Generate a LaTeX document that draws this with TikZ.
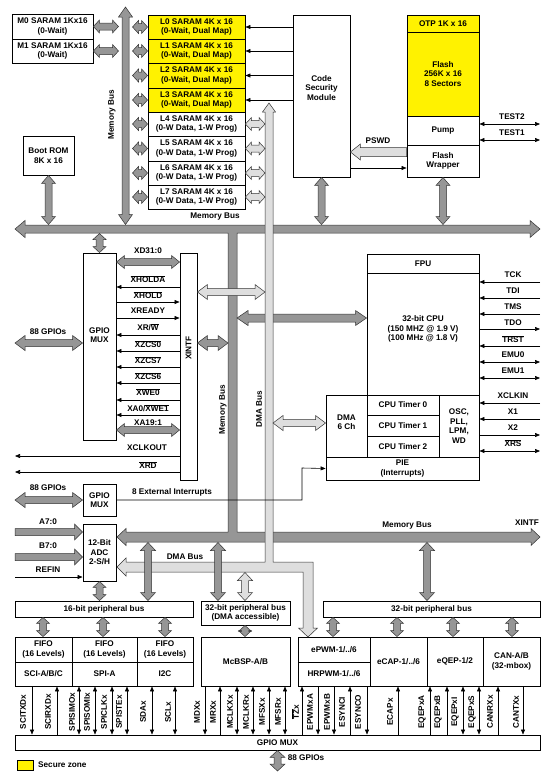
\documentclass[tikz,border=0pt]{standalone}
\usepackage{fontspec}
\setmainfont{Liberation Sans}
\usetikzlibrary{arrows.meta,calc}
\definecolor{busdark}{RGB}{150,150,150}
\definecolor{buslight}{RGB}{222,222,222}
\definecolor{secyel}{RGB}{255,242,0}
\newcommand\ovl[1]{$\overline{\hbox{#1}}$}
\newcommand\fsw{3.5pt}\newcommand\fhw{7pt}\newcommand\fhl{8pt}
\newcommand\fatsize[3]{\renewcommand\fsw{#1pt}\renewcommand\fhw{#2pt}\renewcommand\fhl{#3pt}}
\newcommand\fatDH[3][fatd]{\path[#1] let \p1=#2, \p2=#3 in (\x1,\y1) -- (\x1+\fhl,\y1+\fhw) -- (\x1+\fhl,\y1+\fsw) -- (\x2-\fhl,\y1+\fsw) -- (\x2-\fhl,\y1+\fhw) -- (\x2,\y1) -- (\x2-\fhl,\y1-\fhw) -- (\x2-\fhl,\y1-\fsw) -- (\x1+\fhl,\y1-\fsw) -- (\x1+\fhl,\y1-\fhw) -- cycle;}
\newcommand\fatDV[3][fatd]{\path[#1] let \p1=#2, \p2=#3 in (\x1,\y1) -- (\x1+\fhw,\y1-\fhl) -- (\x1+\fsw,\y1-\fhl) -- (\x1+\fsw,\y2+\fhl) -- (\x1+\fhw,\y2+\fhl) -- (\x1,\y2) -- (\x1-\fhw,\y2+\fhl) -- (\x1-\fsw,\y2+\fhl) -- (\x1-\fsw,\y1-\fhl) -- (\x1-\fhw,\y1-\fhl) -- cycle;}
\newcommand\fatSR[3][fatd]{\path[#1] let \p1=#2, \p2=#3 in (\x1,\y1+\fsw) -- (\x2-\fhl,\y1+\fsw) -- (\x2-\fhl,\y1+\fhw) -- (\x2,\y1) -- (\x2-\fhl,\y1-\fhw) -- (\x2-\fhl,\y1-\fsw) -- (\x1,\y1-\fsw) -- cycle;}
\newcommand\fatSL[3][fatd]{\path[#1] let \p1=#2, \p2=#3 in (\x1,\y1) -- (\x1+\fhl,\y1+\fhw) -- (\x1+\fhl,\y1+\fsw) -- (\x2,\y1+\fsw) -- (\x2,\y1-\fsw) -- (\x1+\fhl,\y1-\fsw) -- (\x1+\fhl,\y1-\fhw) -- cycle;}
\newcommand\bx[7][]{\node[box,#1,minimum width={#4pt-#2pt},minimum height={#5pt-#3pt}] (#6) at ({(#2+#4)/2},{(#3+#5)/2}) {#7};}
\begin{document}
\begin{tikzpicture}[x=1pt,y=-1pt,
 every node/.style={font=\fontsize{8.2}{9.5}\selectfont\bfseries,inner sep=0pt},
 box/.style={draw,line width=0.9pt,align=center,fill=white},
 sec/.style={fill=secyel},
 fatd/.style={draw=black!80,line width=0.5pt,fill=busdark},
 fatl/.style={draw=black!80,line width=0.5pt,fill=buslight},
 sig/.style={line width=0.6pt,-{Triangle[length=5pt,width=4pt]}},
 sigr/.style={line width=0.6pt,{Triangle[length=5pt,width=4pt]}-},
 sigb/.style={line width=0.6pt,{Triangle[length=5pt,width=4pt]}-{Triangle[length=5pt,width=4pt]}},
 lab/.style={align=center}]
\useasboundingbox (0,0) rectangle (548,772);
\fill[white] (0,0) rectangle (548,772);
% named free ends
\coordinate (Lft) at (15,0);
\coordinate (R) at (540,0);
\coordinate (mbvTop) at (125.5,7);
\coordinate (mbvL) at (118.5,0);
\coordinate (mbvR) at (132.5,0);
\coordinate (mbtT) at (0,224.5);
\coordinate (mbtB) at (0,233.5);
\coordinate (mbmL) at (228,0);
\coordinate (mbmR) at (237,0);
\coordinate (dmaL) at (265,0);
\coordinate (dmaR) at (273,0);
\coordinate (mblB) at (0,542.5);
\coordinate (dmahB) at (0,572.5);
\coordinate (intc) at (302,468);
\coordinate (gbot) at (0,771);

% ---------- boxes ----------
\bx{12}{14}{93}{39}{m0}{M0 SARAM 1Kx16\\(0-Wait)}
\bx{12}{39}{93}{63}{m1}{M1 SARAM 1Kx16\\(0-Wait)}
\bx[sec]{148}{15}{245}{39}{l0}{L0 SARAM 4K x 16\\(0-Wait, Dual Map)}
\bx[sec]{148}{39}{245}{63}{l1}{L1 SARAM 4K x 16\\(0-Wait, Dual Map)}
\bx[sec]{148}{63}{245}{88}{l2}{L2 SARAM 4K x 16\\(0-Wait, Dual Map)}
\bx[sec]{148}{88}{245}{112}{l3}{L3 SARAM 4K x 16\\(0-Wait, Dual Map)}
\bx{148}{112}{245}{136}{l4}{L4 SARAM 4K x 16\\(0-W Data, 1-W Prog)}
\bx{148}{136}{245}{161}{l5}{L5 SARAM 4K x 16\\(0-W Data, 1-W Prog)}
\bx{148}{161}{245}{185}{l6}{L6 SARAM 4K x 16\\(0-W Data, 1-W Prog)}
\bx{148}{185}{245}{209}{l7}{L7 SARAM 4K x 16\\(0-W Data, 1-W Prog)}
\bx{23}{136}{74}{175}{bootrom}{Boot ROM\\8K x 16}
\bx{293}{15}{350}{177}{csm}{}
\node[lab] at (321.5,88) {Code\\Security\\Module};
\bx[sec]{407}{15}{479}{32}{otp}{OTP 1K x 16}
\bx[sec]{407}{32}{479}{116}{flash}{Flash\\256K x 16\\8 Sectors}
\bx{407}{116}{479}{145}{pump}{Pump}
\bx{407}{145}{479}{177}{wrapper}{Flash\\Wrapper}

\bx{83}{253}{116}{440}{gpiomux}{}
\node[lab] at (99.5,335) {GPIO\\MUX};
\bx{180}{253}{197}{480}{xintf}{}
\node[rotate=90] at (188.5,348) {XINTF};
\bx{367}{254}{479}{273}{fpu}{FPU}
\bx{367}{273}{479}{395}{cpu}{}
\node[lab] at (423,329) {32-bit CPU\\(150 MHZ @ 1.9 V)\\(100 MHz @ 1.8 V)};
\bx{326}{395}{367}{457}{dmabox}{}
\node[lab] at (346.5,422) {DMA\\6 Ch};
\bx{367}{395}{439}{415}{t0}{CPU Timer 0}
\bx{367}{415}{439}{436}{t1}{CPU Timer 1}
\bx{367}{436}{439}{457}{t2}{CPU Timer 2}
\bx{439}{395}{479}{457}{osc}{OSC,\\PLL,\\LPM,\\WD}
\bx{326}{457}{479}{480}{pie}{PIE\\(Interrupts)}

\bx{83}{484}{116}{516}{gpiomuxb}{GPIO\\MUX}
\bx{83}{524}{116}{581}{adc}{12-Bit\\ADC\\2-S/H}
\bx{15}{601}{193}{617}{bus16}{16-bit peripheral bus}
\bx{201}{601}{290}{625}{bus32d}{32-bit peripheral bus\\(DMA accessible)}
\bx{323}{601}{540}{617}{bus32}{32-bit peripheral bus}

\bx{15}{637}{72}{662}{scif}{FIFO\\(16 Levels)}
\bx{15}{662}{72}{686}{sci}{SCI-A/B/C}
\bx{72}{637}{137}{662}{spif}{FIFO\\(16 Levels)}
\bx{72}{662}{137}{686}{spi}{SPI-A}
\bx{137}{637}{193}{662}{i2cf}{FIFO\\(16 Levels)}
\bx{137}{662}{193}{686}{i2c}{I2C}
\bx{201}{637}{290}{686}{mcbsp}{McBSP-A/B}
\bx{298}{637}{370}{662}{epwm}{ePWM-1/../6}
\bx{298}{662}{370}{686}{hrpwm}{HRPWM-1/../6}
\bx{370}{637}{427}{686}{ecap}{eCAP-1/../6}
\bx{427}{637}{483}{686}{eqep}{eQEP-1/2}
\bx{483}{637}{540}{686}{can}{CAN-A/B\\(32-mbox)}
\bx{15}{735}{540}{750}{gpiob}{GPIO MUX}
\bx[sec,line width=0.6pt]{17}{760}{33}{770}{legend}{}
\node[anchor=west] at (38,765) {Secure zone};

% ---------- memory bus (composite) ----------
\path[fatd] (15,229) -- (25,220.5) -- (25,225) -- (530,225) -- (530,220.5) -- (540,229) -- (530,237.5) -- (530,233) -- (237,233) -- (237,532) -- (531,532) -- (531,528.5) -- (540,537) -- (531,545.5) -- (531,542) -- (126,542) -- (126,545.5) -- (117,537) -- (126,528.5) -- (126,532) -- (228,532) -- (228,233) -- (25,233) -- (25,237.5) -- cycle;
\node at (215,217) {Memory Bus};
\node at (407,526) {Memory Bus};
\node at (527,523) {XINTF};
\node[rotate=90] at (223,410) {Memory Bus};

% top-left vertical memory bus
\fatsize{3.5}{7}{10}
\fatDV{(mbvTop)}{(mbvL |- mbtT)}
\node[rotate=90] at (112,115) {Memory Bus};

\fatsize{3.5}{6.5}{6}
\fatDH{(m0.east)}{(mbvL)}
\fatDH{(m1.east)}{(mbvL)}
\foreach \nm in {l0,l1,l2,l3,l4,l5,l6,l7}{\fatDH{(mbvR |- \nm.west)}{(\nm.west)}}

\foreach \nm in {l0,l1,l2,l3}{\draw[sig] (csm.west |- \nm.east) -- (\nm.east);}

\fatsize{3.5}{7}{8}
\fatDV{(bootrom.south)}{(bootrom.south |- mbtT)}
\fatDV{(csm.south)}{(csm.south |- mbtT)}
\fatDV{(wrapper.south)}{(wrapper.south |- mbtT)}
\fatsize{3.5}{6.5}{6}
\fatDV{(gpiomux.north |- mbtB)}{(gpiomux.north)}

% flash side
\fatsize{4.5}{8}{10}
\fatSL[fatl]{(csm.east |- 0,152)}{(wrapper.west)}
\node at (378,141) {PSWD};
\draw[sig] (csm.east |- 0,168) -- (wrapper.west |- 0,168);
\draw[sigb] (pump.east |- 0,124) -- (R |- 0,124);
\node at (512,117) {TEST2};
\draw[sigb] (pump.east |- 0,140) -- (R |- 0,140);
\node at (512,133) {TEST1};

% GPIO / XINTF
\fatsize{3.5}{7.5}{10}
\fatDH{(Lft |- 0,343)}{(gpiomux.west)}
\node at (48,332) {88 GPIOs};
\fatsize{3.5}{6.5}{8}
\fatDH{(gpiomux.east |- 0,262)}{(xintf.west)}
\node at (148,251) {XD31:0};
\fatDH{(gpiomux.east |- 0,430)}{(xintf.west)}
\node at (148,423) {XA19:1};
\draw[sig] (xintf.west |- 0,287) -- (gpiomux.east |- 0,287);
\node at (148,279) {\ovl{XHOLDA}};
\draw[sig] (gpiomux.east |- 0,302) -- (xintf.west |- 0,302);
\node at (148,295) {\ovl{XHOLD}};
\draw[sig] (gpiomux.east |- 0,318) -- (xintf.west |- 0,318);
\node at (148,311) {XREADY};
\draw[sig] (xintf.west |- 0,335) -- (gpiomux.east |- 0,335);
\node at (148,327) {XR/\ovl{W}};
\draw[sig] (xintf.west |- 0,351) -- (gpiomux.east |- 0,351);
\node at (148,344) {\ovl{XZCS0}};
\draw[sig] (xintf.west |- 0,367) -- (gpiomux.east |- 0,367);
\node at (148,360) {\ovl{XZCS7}};
\draw[sig] (xintf.west |- 0,383) -- (gpiomux.east |- 0,383);
\node at (148,376) {\ovl{XZCS6}};
\draw[sig] (xintf.west |- 0,400) -- (gpiomux.east |- 0,400);
\node at (148,392) {\ovl{XWE0}};
\draw[sig] (xintf.west |- 0,415) -- (gpiomux.east |- 0,415);
\node at (148,408) {XA0/\ovl{XWE1}};
\draw[sig] (xintf.west |- 0,456) -- (Lft |- 0,456);
\node at (147,448) {XCLKOUT};
\draw[sig] (xintf.west |- 0,472) -- (Lft |- 0,472);
\node at (148,465) {\ovl{XRD}};

\fatsize{3.5}{7.5}{10}
\fatDH{(xintf.east |- 0,343)}{(mbmL)}
\fatsize{4}{7.5}{11}
\fatDH{(mbmR |- 0,318)}{(cpu.west)}

% ---------- DMA bus (composite) ----------
\path[fatl] (269,103) -- (275.5,112) -- (273,112) -- (273,562) -- (313,562) -- (313,628) -- (317.5,628) -- (308,637) -- (298.5,628) -- (303,628) -- (303,572) -- (126,572) -- (126,576) -- (117,567) -- (126,558) -- (126,562) -- (265,562) -- (265,112) -- (262.5,112) -- cycle;
\node[rotate=90] at (259,409) {DMA Bus};
\node at (185,557) {DMA Bus};

\fatsize{3.5}{6.5}{6}
\foreach \nm in {l4,l5,l6,l7}{\fatDH[fatl]{(\nm.east)}{(dmaL)}}
\fatsize{3.5}{7.5}{10}
\fatDH[fatl]{(xintf.east |- 0,292)}{(dmaL)}
\fatDH[fatl]{(dmaR |- 0,423)}{(dmabox.west)}

% CPU pins
\draw[sig] (R |- 0,282) -- (cpu.east |- 0,282); \node at (513,275) {TCK};
\draw[sig] (R |- 0,298) -- (cpu.east |- 0,298); \node at (513,291) {TDI};
\draw[sig] (R |- 0,314) -- (cpu.east |- 0,314); \node at (513,307) {TMS};
\draw[sig] (cpu.east |- 0,329) -- (R |- 0,329); \node at (513,323) {TDO};
\draw[sig] (R |- 0,346) -- (cpu.east |- 0,346); \node at (513,339) {\ovl{TRST}};
\draw[sigb] (cpu.east |- 0,362) -- (R |- 0,362); \node at (513,355) {EMU0};
\draw[sigb] (cpu.east |- 0,378) -- (R |- 0,378); \node at (513,371) {EMU1};
\draw[sig] (R |- 0,403) -- (osc.east |- 0,403); \node at (513,396) {XCLKIN};
\draw[sig] (R |- 0,419) -- (osc.east |- 0,419); \node at (513,412) {X1};
\draw[sig] (osc.east |- 0,435) -- (R |- 0,435); \node at (513,428) {X2};
\draw[sigb] (osc.east |- 0,451) -- (R |- 0,451); \node at (513,443) {\ovl{XRS}};

% interrupts
\draw[sig] (gpiomuxb.east) -| (intc) -- (pie.west);
\node at (172,492) {8 External Interrupts};
\fatsize{3.5}{7.5}{10}
\fatDH{(Lft |- gpiomuxb.west)}{(gpiomuxb.west)}
\node at (48,488) {88 GPIOs};

% ADC
\fatsize{3.5}{8}{8}
\fatSR{(Lft |- 0,532)}{(adc.west)}
\node at (48,522) {A7:0};
\fatSR{(Lft |- 0,557)}{(adc.west)}
\node at (48,546) {B7:0};
\draw[sig] (Lft |- 0,577) -- (adc.west |- 0,577);
\node at (48,570) {REFIN};
\fatsize{3.5}{6.5}{6}
\fatDV{(adc.south)}{(adc.south |- bus16.north)}

% bus drops
\fatsize{3.5}{7.5}{8}
\fatDV[fatl]{(245,0 |- dmahB)}{(245,0 |- bus32d.north)}
\fatDV{(148,0 |- mblB)}{(148,0 |- bus16.north)}
\fatDV{(218,0 |- mblB)}{(218,0 |- bus32d.north)}
\fatDV{(427,0 |- mblB)}{(427,0 |- bus32.north)}

\fatsize{3.5}{6.5}{6}
\fatDV{(43,0 |- bus16.south)}{(43,0 |- scif.north)}
\fatDV{(103,0 |- bus16.south)}{(103,0 |- spif.north)}
\fatDV{(165,0 |- bus16.south)}{(165,0 |- i2cf.north)}
\fatDV{(245,0 |- bus32d.south)}{(245,0 |- mcbsp.north)}
\fatDV{(333,0 |- bus32.south)}{(333,0 |- epwm.north)}
\fatDV{(397,0 |- bus32.south)}{(397,0 |- ecap.north)}
\fatDV{(453,0 |- bus32.south)}{(453,0 |- eqep.north)}
\fatDV{(512,0 |- bus32.south)}{(512,0 |- can.north)}

% peripheral pins
\foreach \xx/\lx/\dd/\bb/\tx in {32/23/sig/sci/SCITXDx, 57/48/sigr/sci/SCIRXDx,
 79/72/sigb/spi/SPISIMOx, 95/87/sigb/spi/SPISOMIx, 112/104/sigb/spi/SPICLKx, 127/119/sigb/spi/SPISTEx,
 152/143/sigb/i2c/SDAx, 175/168/sigb/i2c/SCLx,
 205/197/sig/mcbsp/MDXx, 220/213/sigr/mcbsp/MRXx, 237/230/sigb/mcbsp/MCLKXx, 253/246/sigb/mcbsp/MCLKRx,
 269/262/sigb/mcbsp/MFSXx, 285/278/sigb/mcbsp/MFSRx,
 302/295/sigr/hrpwm/{\ovl{TZ}x}, 318/310/sig/hrpwm/EPWMxA, 334/327/sig/hrpwm/EPWMxB,
 350/342/sigr/hrpwm/ESYNCI, 367/358/sig/hrpwm/ESYNCO,
 398/390/sigr/ecap/ECAPx,
 430/422/sigr/eqep/EQEPxA, 447/438/sigr/eqep/EQEPxB, 463/455/sigb/eqep/EQEPxI, 479/472/sigb/eqep/EQEPxS,
 498/490/sigr/can/CANRXx, 523/516/sig/can/CANTXx}
 {\draw[\dd] (\xx,0 |- \bb.south) -- (\xx,0 |- gpiob.north);
  \node[rotate=90] at (\lx,712) {\tx};}

\fatsize{3.5}{7.5}{7}
\fatDV{(gpiob.south)}{(gpiob.south |- gbot)}
\node at (306,758) {88 GPIOs};
\end{tikzpicture}
\end{document}
